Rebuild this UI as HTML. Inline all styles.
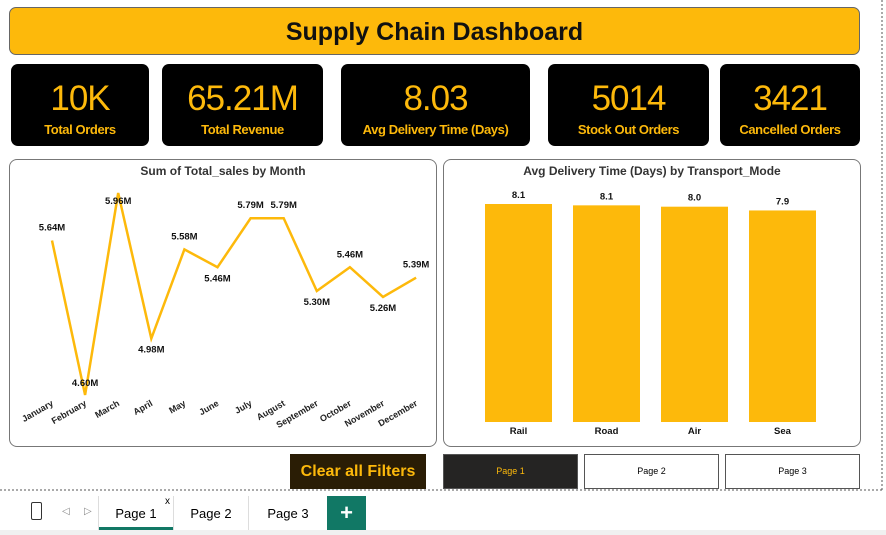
<!DOCTYPE html>
<html><head><meta charset="utf-8"><style>
body{margin:0;width:886px;height:535px;background:#fff;font-family:"Liberation Sans",sans-serif;position:relative;overflow:hidden}
.abs{position:absolute}
.title{left:9px;top:7px;width:849px;height:46px;background:#FDB90B;border:1px solid #666;border-radius:7px;text-align:center;line-height:48px;font-size:25px;font-weight:bold;color:#111}
.card{top:64px;height:82px;background:#000;border-radius:7px;text-align:center;color:#FDB90B}
.card .v{font-size:35px;margin-top:17px;line-height:36px;letter-spacing:-1px}
.card .l{font-size:13px;font-weight:bold;margin-top:5px;letter-spacing:-0.4px}
.panel{border:1px solid #777;border-radius:8px;background:#fff}
.btn{top:454px;height:33px;border:1px solid #555;font-size:9px;text-align:center;line-height:33px}
</style></head><body>
<div class="abs title">Supply Chain Dashboard</div>
<div class="abs card" style="left:11px;width:138px"><div class="v">10K</div><div class="l">Total Orders</div></div>
<div class="abs card" style="left:162px;width:161px"><div class="v">65.21M</div><div class="l">Total Revenue</div></div>
<div class="abs card" style="left:341px;width:189px"><div class="v">8.03</div><div class="l">Avg Delivery Time (Days)</div></div>
<div class="abs card" style="left:548px;width:161px"><div class="v">5014</div><div class="l">Stock Out Orders</div></div>
<div class="abs card" style="left:720px;width:140px"><div class="v">3421</div><div class="l">Cancelled Orders</div></div>
<div class="abs panel" style="left:9px;top:159px;width:426px;height:286px"></div>
<div class="abs panel" style="left:443px;top:159px;width:416px;height:286px"></div>
<svg class="abs" style="left:0;top:0" width="886" height="535" id="svg">
<text x="223" y="175" text-anchor="middle" font-size="12" font-weight="bold" fill="#333">Sum of Total_sales by Month</text>
<text x="652" y="175" text-anchor="middle" font-size="12" font-weight="bold" fill="#333">Avg Delivery Time (Days) by Transport_Mode</text>
<g id="lineg"></g><g id="barg"></g>
<line x1="0" y1="490" x2="882" y2="490" stroke="#555" stroke-dasharray="2,2"/>
<line x1="882" y1="0" x2="882" y2="490" stroke="#555" stroke-dasharray="2,2"/>
</svg>
<div class="abs" style="left:290px;top:454px;width:136px;height:35px;background:#2a1d05;color:#FDB90B;font-weight:bold;font-size:16px;text-align:center;line-height:35px">Clear all Filters</div>
<div class="abs btn" style="left:443px;width:133px;background:#252423;color:#FDB90B">Page 1</div>
<div class="abs btn" style="left:584px;width:133px;background:#fff">Page 2</div>
<div class="abs btn" style="left:725px;width:133px;background:#fff">Page 3</div>
<div class="abs" style="left:0;top:530px;width:886px;height:5px;background:#f0f0f0"></div>
<div class="abs" style="left:31px;top:502px;width:9px;height:16px;border:1.5px solid #333;border-radius:2px"></div>
<div class="abs" style="left:62px;top:506px;font-size:10px;color:#888">◁</div>
<div class="abs" style="left:84px;top:506px;font-size:10px;color:#888">▷</div>
<div class="abs" style="left:98px;top:496px;width:74px;height:34px;border-left:1px solid #ddd;border-right:1px solid #ddd;font-size:13px;text-align:center;line-height:36px">Page 1<div class="abs" style="left:0;bottom:0;width:74px;height:3px;background:#117865"></div><span class="abs" style="right:3px;top:-12px;font-size:10px">x</span></div>
<div class="abs" style="left:174px;top:496px;width:74px;height:34px;border-right:1px solid #ddd;font-size:13px;text-align:center;line-height:36px">Page 2</div>
<div class="abs" style="left:250px;top:496px;width:76px;height:34px;font-size:13px;text-align:center;line-height:36px">Page 3</div>
<div class="abs" style="left:327px;top:496px;width:39px;height:34px;background:#117865;color:#fff;font-size:22px;font-weight:bold;text-align:center;line-height:34px">+</div>
<script>
const months=["January","February","March","April","May","June","July","August","September","October","November","December"];
const sales=[5.64,4.60,5.96,4.98,5.58,5.46,5.79,5.79,5.30,5.46,5.26,5.39];
const salesLabels=["5.64M","4.60M","5.96M","4.98M","5.58M","5.46M","5.79M","5.79M","5.30M","5.46M","5.26M","5.39M"];
const modes=["Rail","Road","Air","Sea"];
const delivery=[8.10,8.05,8.00,7.86];
const deliveryLabels=["8.1","8.1","8.0","7.9"];
const NS="http://www.w3.org/2000/svg";
function mk(tag,attrs,parent){const e=document.createElementNS(NS,tag);for(const k in attrs)e.setAttribute(k,attrs[k]);parent.appendChild(e);return e;}
const lx=i=>52+i*33.1;
const ly=v=>193+(5.96-v)*148.5;
const lg=document.getElementById('lineg');
const pl=mk('polyline',{points:sales.map((v,i)=>lx(i)+','+ly(v)).join(' '),fill:'none',stroke:'#FDB90B','stroke-width':2.5,'stroke-linejoin':'miter'},lg);


const below=[false,true,false,true,false,true,false,false,true,false,true,false];
sales.forEach((v,i)=>{
 const t=mk('text',{x:lx(i),y:below[i]?ly(v)+14:ly(v)-10,'text-anchor':'middle','font-size':9.5,'font-weight':'bold',fill:'#111'},lg);
 if(i==1)t.setAttribute('y',ly(v)-9);
 if(i==2)t.setAttribute('y',ly(v)+11);
 t.textContent=salesLabels[i];
 
 
 const m=mk('text',{x:lx(i)+2,y:405,'text-anchor':'end','font-size':9,'font-weight':'bold',fill:'#222',transform:'rotate(-30 '+(lx(i)+2)+' 405)'},lg);
 m.textContent=months[i];
 
 
});
const bg=document.getElementById('barg');
const base=422,scale=218/8.1;
modes.forEach((m,i)=>{
 const x=485+i*88,h=delivery[i]*scale;
 const r=mk('rect',{x:x,y:base-h,width:67,height:h,fill:'#FDB90B'},bg);
 
 
 const t=mk('text',{x:x+33.5,y:base-h-6,'text-anchor':'middle','font-size':9.5,'font-weight':'bold',fill:'#111'},bg);
 t.textContent=deliveryLabels[i];
 
 
 const c=mk('text',{x:x+33.5,y:434,'text-anchor':'middle','font-size':9.5,'font-weight':'bold',fill:'#111'},bg);
 c.textContent=m;
 
 
});
</script>
</body></html>
